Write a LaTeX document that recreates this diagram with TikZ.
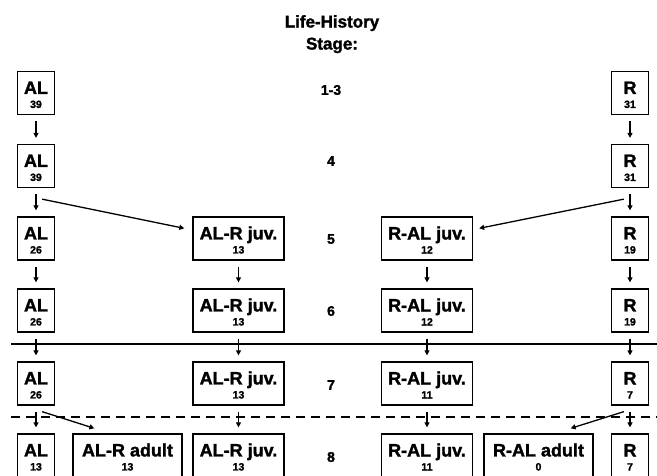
\documentclass[tikz,border=0pt]{standalone}
\usepackage{fontspec}
\setmainfont{Liberation Sans}[BoldFeatures={FakeBold=1.6}]
\usetikzlibrary{arrows.meta,calc}
\newcommand{\boxlbl}[2]{\rule{0pt}{16pt}#1\\{\fontsize{10.5}{14}\selectfont #2}}
\tikzset{
  popbox/.style={draw, line width=1.3pt, minimum height=43pt, inner sep=0pt, align=center,
    font=\bfseries\fontsize{18}{14}\selectfont},
  narrowbox/.style={popbox, minimum width=37pt},
  juvbox/.style={popbox, minimum width=91pt},
  adultbox/.style={popbox, minimum width=109pt},
  flow/.style={-{Triangle[length=5pt,width=5pt]}, line width=1.3pt},
  godown/.style={flow, shorten <=6pt, shorten >=6pt},
  stage/.style={font=\bfseries\fontsize{14}{16}\selectfont},
}

\begin{document}
\begin{tikzpicture}[x=1pt, y=-1pt]
\useasboundingbox (0,0) rectangle (657,475);
\clip (0,0) rectangle (657,475);

\node[anchor=north, inner sep=0pt, align=center, font=\bfseries\fontsize{17}{22}\selectfont] (title) at (332,15) {Life-History\\Stage:};
\foreach \lbl/\yy [count=\i] in {1-3/90, 4/161, 5/239, 6/311, 7/385, 8/457}
  \node[stage] (st\i) at (331,\yy) {\lbl};

% stages 1-3 and 4
\node[narrowbox] (al13) at (36,93) {\boxlbl{AL}{39}};
\node[narrowbox] (r13) at (630,93) {\boxlbl{R}{31}};
\node[narrowbox] (al4) at (36,166) {\boxlbl{AL}{39}};
\node[narrowbox] (r4) at (630,166) {\boxlbl{R}{31}};
% stage 5
\node[narrowbox] (al5) at (36,238.5) {\boxlbl{AL}{26}};
\node[juvbox] (alrj5) at (238.5,238.5) {\boxlbl{AL-R juv.}{13}};
\node[juvbox] (ralj5) at (427,238.5) {\boxlbl{R-AL juv.}{12}};
\node[narrowbox] (r5) at (630,238.5) {\boxlbl{R}{19}};
% stage 6
\node[narrowbox] (al6) at (36,310.5) {\boxlbl{AL}{26}};
\node[juvbox] (alrj6) at (238.5,310.5) {\boxlbl{AL-R juv.}{13}};
\node[juvbox] (ralj6) at (427,310.5) {\boxlbl{R-AL juv.}{12}};
\node[narrowbox] (r6) at (630,310.5) {\boxlbl{R}{19}};
% stage 7
\node[narrowbox] (al7) at (36,383.5) {\boxlbl{AL}{26}};
\node[juvbox] (alrj7) at (238.5,383.5) {\boxlbl{AL-R juv.}{13}};
\node[juvbox] (ralj7) at (427,383.5) {\boxlbl{R-AL juv.}{11}};
\node[narrowbox] (r7) at (630,383.5) {\boxlbl{R}{7}};
% stage 8
\node[narrowbox] (al8) at (36,455.5) {\boxlbl{AL}{13}};
\node[adultbox] (alra8) at (127.5,455.5) {\boxlbl{AL-R adult}{13}};
\node[juvbox] (alrj8) at (238.5,455.5) {\boxlbl{AL-R juv.}{13}};
\node[juvbox] (ralj8) at (427,455.5) {\boxlbl{R-AL juv.}{11}};
\node[adultbox] (rala8) at (538.5,455.5) {\boxlbl{R-AL adult}{0}};
\node[narrowbox] (r8) at (630,455.5) {\boxlbl{R}{7}};

\draw[line width=2pt] (11,344) -- (657,344);
\draw[line width=1.5pt, dash pattern=on 9pt off 6pt] (11,417) -- (657,417);

\foreach \a/\b in {al13/al4, al4/al5, al5/al6, al6/al7, al7/al8,
    r13/r4, r4/r5, r5/r6, r6/r7, r7/r8,
    alrj5/alrj6, alrj6/alrj7, alrj7/alrj8,
    ralj5/ralj6, ralj6/ralj7, ralj7/ralj8}
  \draw[godown] (\a) -- (\b);

\draw[flow] ($(al4.south east)+(-13,11)$) -- ($(alrj5.north west)+(-8,12)$);
\draw[flow] ($(r4.south west)+(13,11)$) -- ($(ralj5.north east)+(6,12)$);
\draw[flow] ($(al7.south east)+(-13,6)$) -- ($(alra8.north west)+(22,-5)$);
\draw[flow] ($(r7.south west)+(13,6)$) -- ($(rala8.north east)+(-23,-5)$);
\end{tikzpicture}
\end{document}
